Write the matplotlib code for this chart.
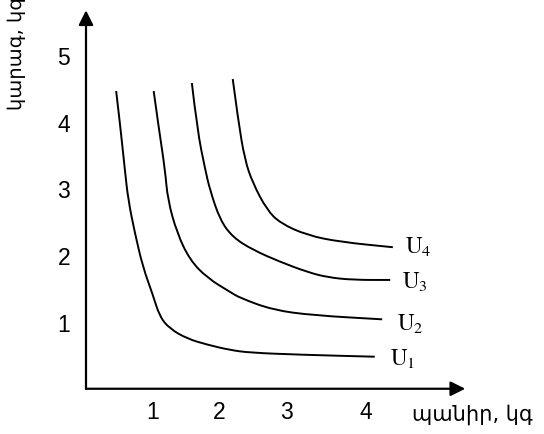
"""
Indifference curves U1..U4 for cheese vs butter (Armenian labels).
"""

import matplotlib
matplotlib.use("Agg")
import matplotlib.pyplot as plt
from matplotlib.path import Path
from matplotlib.patches import PathPatch

plt.rcParams["mathtext.fontset"] = "stix"

# curve data (x = cheese, kg; y = butter, kg)
u1_x = [0.45, 0.51, 0.58, 0.63, 0.73, 0.85, 0.99, 1.10, 1.25, 1.51, 1.81, 2.15, 2.45, 3.19, 4.31]
u1_y = [4.46, 3.95, 3.28, 2.83, 2.33, 1.82, 1.43, 1.08, 0.90, 0.75, 0.66, 0.58, 0.54, 0.51, 0.48]

u2_x = [1.01, 1.09, 1.18, 1.22, 1.36, 1.55, 1.81, 2.15, 2.30, 2.79, 3.39, 4.42]
u2_y = [4.46, 3.88, 3.28, 2.83, 2.33, 1.93, 1.66, 1.45, 1.36, 1.18, 1.10, 1.04]

u3_x = [1.58, 1.66, 1.78, 1.85, 2.00, 2.19, 2.49, 2.90, 3.30, 3.60, 3.99, 4.54]
u3_y = [4.58, 3.88, 3.28, 2.98, 2.53, 2.27, 2.08, 1.90, 1.75, 1.67, 1.63, 1.63]

u4_x = [2.19, 2.27, 2.37, 2.49, 2.70, 2.90, 3.30, 3.79, 4.58]
u4_y = [4.64, 4.03, 3.43, 3.08, 2.68, 2.48, 2.30, 2.20, 2.12]

curve_labels = [r"$\mathrm{U}_1$", r"$\mathrm{U}_2$", r"$\mathrm{U}_3$", r"$\mathrm{U}_4$"]
x_ticks = ["1", "2", "3", "4"]
y_ticks = ["1", "2", "3", "4", "5"]
x_title = "պանիր, կգ"
y_title = "կարագ, կգ"

# layout (data units)
x_tick_pos = [1.0, 1.99, 2.99, 4.17]
y_tick_pos = [1, 2, 3, 4, 5]
label_pos = [(4.54, 0.36), (4.64, 0.88), (4.72, 1.51), (4.76, 2.03)]


def smooth_path(xs, ys):
    """Quadratic-bezier path using the read points as control points."""
    pts = list(zip(xs, ys))
    verts = [pts[0]]
    codes = [Path.MOVETO]
    for i in range(1, len(pts) - 1):
        mid = ((pts[i][0] + pts[i + 1][0]) / 2, (pts[i][1] + pts[i + 1][1]) / 2)
        verts += [pts[i], mid]
        codes += [Path.CURVE3, Path.CURVE3]
    verts.append(pts[-1])
    codes.append(Path.LINETO)
    return Path(verts, codes)


fig = plt.figure(figsize=(5.44, 4.34), dpi=100)
ax = fig.add_axes([0, 0, 1, 1])
ax.set_xlim(-86 / 67, (544 - 86) / 67)
ax.set_ylim((388.75 - 434) / 66.75, 388.75 / 66.75)
ax.axis("off")

# axes with arrow heads
arrow = dict(arrowstyle="-|>", color="black", lw=1.6, mutation_scale=22,
             shrinkA=0, shrinkB=0)
ax.annotate("", xy=(0, 5.67), xytext=(0, 0), arrowprops=arrow)
ax.annotate("", xy=(5.66, 0), xytext=(0, 0), arrowprops=arrow)

curves = [(u1_x, u1_y), (u2_x, u2_y), (u3_x, u3_y), (u4_x, u4_y)]
for (xs, ys), lab, (lx, ly) in zip(curves, curve_labels, label_pos):
    ax.add_patch(PathPatch(smooth_path(xs, ys), fill=False, edgecolor="black",
                           lw=1.4, capstyle="butt"))
    ax.text(lx, ly, lab, fontsize=16.5, va="baseline", ha="left")

for pos, t in zip(x_tick_pos, x_ticks):
    ax.text(pos, -0.36, t, fontsize=16.5, ha="center", va="center",
            family="Liberation Sans")
for pos, t in zip(y_tick_pos, y_ticks):
    ax.text(-0.33, pos - 0.05, t, fontsize=16.5, ha="center", va="center",
            family="Liberation Sans")

ax.text(4.87, -0.39, x_title, fontsize=15, ha="left", va="center",
        family="DejaVu Sans")
ax.text(-1.03, 4.18, y_title, fontsize=14, rotation=90, ha="left", va="center",
        rotation_mode="anchor", family="DejaVu Sans")

fig.savefig("out.png", dpi=100)
